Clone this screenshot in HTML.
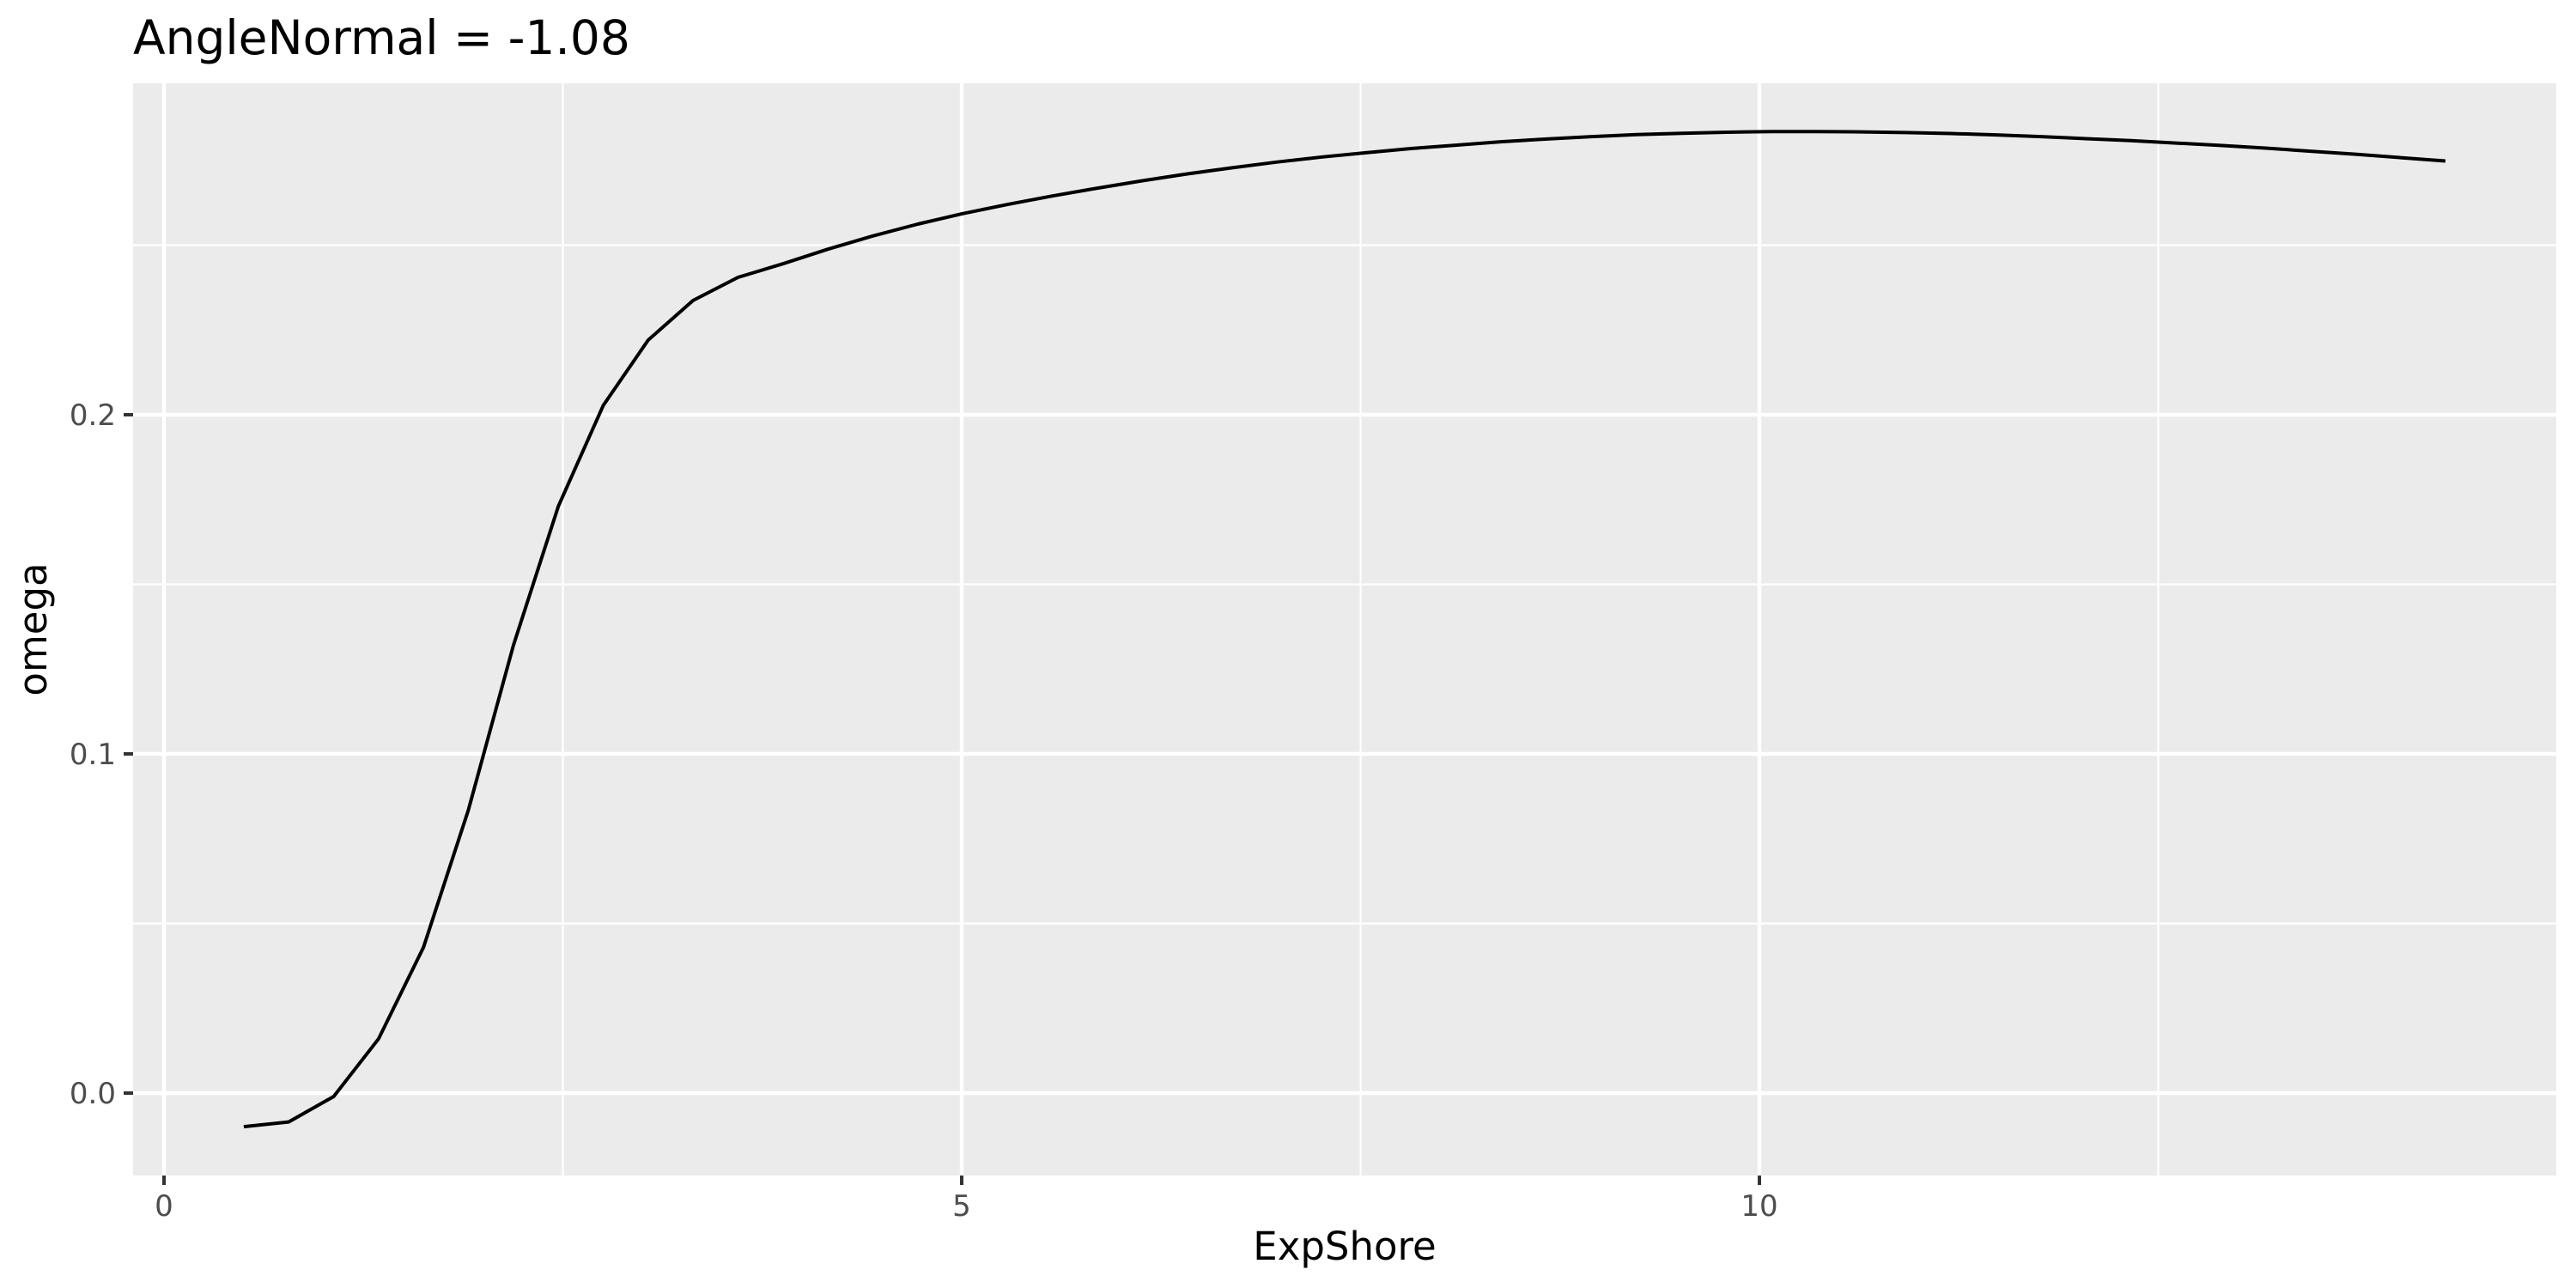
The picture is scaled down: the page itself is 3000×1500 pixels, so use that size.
<!DOCTYPE html>
<html><head><meta charset="utf-8"><style>
body{margin:0;background:#fff}
svg{display:block;font-family:"DejaVu Sans","Liberation Sans",sans-serif}
</style></head><body>
<svg id="chart" width="3000" height="1500" viewBox="0 0 3000 1500" xmlns="http://www.w3.org/2000/svg">
<text x="155" y="63" font-size="55" fill="#000">AngleNormal = -1.08</text>
<rect x="155" y="97" width="2822" height="1272" fill="#ebebeb"/>
<g id="grid"></g>
<g id="axes"></g>
<path id="line" fill="none" stroke="#000" stroke-width="4" stroke-linejoin="round"/>
<text x="1566" y="1467" font-size="45" text-anchor="middle" fill="#000">ExpShore</text>
<text transform="translate(54,733) rotate(-90)" font-size="45" text-anchor="middle" fill="#000">omega</text>
</svg>
<script>
const yValues=[-0.0099,-0.0085,-0.001,0.016,0.043,0.0835,0.132,0.173,0.2027,0.222,0.2337,0.2405,0.2445,0.2488,0.2527,0.2562,0.2593,0.262,0.2645,0.2668,0.269,0.271,0.2728,0.2745,0.276,0.2773,0.2785,0.2795,0.2805,0.2813,0.282,0.2826,0.283,0.2833,0.2835,0.2835,0.2834,0.2832,0.2829,0.2825,0.282,0.2814,0.2808,0.2801,0.2794,0.2786,0.2777,0.2768,0.2758,0.2748];
const xStart=0.5, xEnd=14.3;
const xTicks=[0,5,10];
const xTickLabels=["0","5","10"];
const xMinor=[2.5,7.5,12.5];
const yTicks=[0,0.1,0.2];
const yTickLabels=["0.0","0.1","0.2"];
const yMinor=[-0.05,0.05,0.15,0.25];
const NS="http://www.w3.org/2000/svg";
const X0=191, XS=185.8, Y0=1273, YS=3950;
const L=155,R=2977,T=97,B=1369;
function sx(v){return X0+v*XS;}
function sy(v){return Y0-v*YS;}
function mk(tag,attrs,parent,text){const e=document.createElementNS(NS,tag);for(const k in attrs)e.setAttribute(k,attrs[k]);if(text!==undefined)e.textContent=text;parent.appendChild(e);return e;}
const grid=document.getElementById('grid'), axes=document.getElementById('axes');
yMinor.forEach(v=>{const e=mk('line',{x1:L,x2:R,y1:sy(v),y2:sy(v),stroke:'#fff','stroke-width':2.2},grid);

});
xMinor.forEach(v=>{const e=mk('line',{x1:sx(v),x2:sx(v),y1:T,y2:B,stroke:'#fff','stroke-width':2.2},grid);

});
yTicks.forEach((v,i)=>{const e=mk('line',{x1:L,x2:R,y1:sy(v),y2:sy(v),stroke:'#fff','stroke-width':4.4},grid);


const t=mk('line',{x1:L-11,x2:L,y1:sy(v),y2:sy(v),stroke:'#333','stroke-width':4},axes);


const l=mk('text',{x:L-20,y:sy(v)+12,'font-size':34,'text-anchor':'end',fill:'#4d4d4d'},axes,yTickLabels[i]);

});
xTicks.forEach((v,i)=>{const e=mk('line',{x1:sx(v),x2:sx(v),y1:T,y2:B,stroke:'#fff','stroke-width':4.4},grid);


const t=mk('line',{x1:sx(v),x2:sx(v),y1:B,y2:B+11,stroke:'#333','stroke-width':4},axes);


const l=mk('text',{x:sx(v),y:1416,'font-size':34,'text-anchor':'middle',fill:'#4d4d4d'},axes,xTickLabels[i]);

});
const n=yValues.length, step=(xEnd-xStart)/(n-1);
document.getElementById('line').setAttribute('d',yValues.map((v,i)=>(i?'L':'M')+sx(xStart+i*step).toFixed(1)+','+sy(v).toFixed(1)).join(''));
</script>
</body></html>
